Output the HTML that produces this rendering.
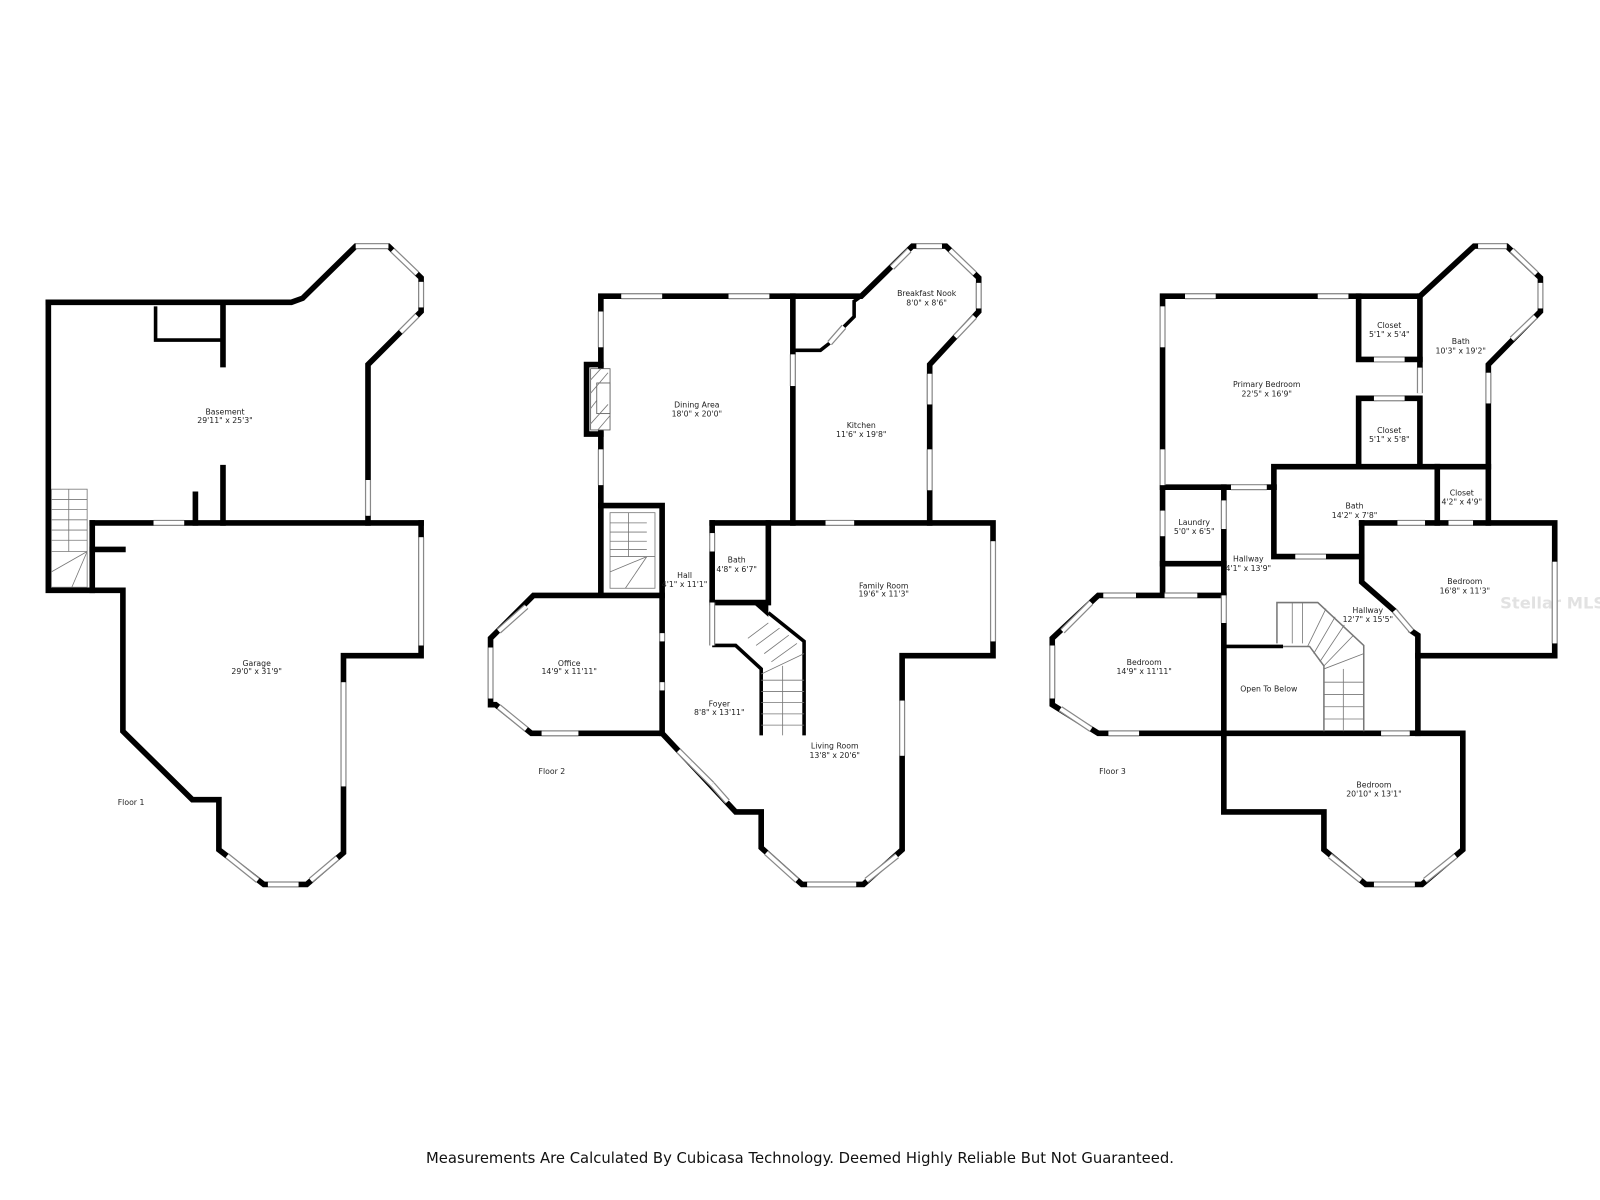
<!DOCTYPE html>
<html><head><meta charset="utf-8"><style>
html,body{margin:0;padding:0;background:#fff;}
svg{display:block}
text{font-family:"DejaVu Sans","Liberation Sans",sans-serif;font-size:7.6px;fill:#222;text-anchor:middle}
.wl{fill:none;stroke:#000;stroke-width:5.5;stroke-linejoin:miter;stroke-linecap:square}
.th{fill:none;stroke:#000;stroke-width:3.5}
.st{fill:none;stroke:#777;stroke-width:0.8}
</style></head><body>
<svg width="1600" height="1200" viewBox="0 0 1566 1175" xmlns="http://www.w3.org/2000/svg">
<rect width="1566" height="1175" fill="#fff"/>

<!-- FLOOR 1 -->
<polyline class="wl" points="47,296 285,296 296,292 348,241 380,241 412,272 412,305 360,357 360,512"/>
<polyline class="wl" points="412,512 412,642 336,642 336,835 300,866 258,866 214,832 214,783 188,783 120,716 120,578 47,578 47,296"/>
<line class="wl" x1="90" y1="512" x2="412" y2="512"/>
<line class="wl" x1="90" y1="512" x2="90" y2="578"/>
<line class="wl" x1="90" y1="538" x2="120" y2="538"/>
<line class="wl" x1="218" y1="296" x2="218" y2="357"/>
<polyline class="th" points="152,300 152,333 218,333"/>
<line class="wl" x1="218" y1="458" x2="218" y2="512"/>
<line class="wl" x1="191" y1="484" x2="191" y2="512"/>
<g class="st">
<rect x="50" y="479" width="35" height="96"/>
<line x1="67" y1="479" x2="67" y2="540"/>
<line x1="50" y1="489" x2="85" y2="489"/><line x1="50" y1="499" x2="85" y2="499"/><line x1="50" y1="509" x2="85" y2="509"/><line x1="50" y1="519" x2="85" y2="519"/><line x1="50" y1="529" x2="85" y2="529"/><line x1="50" y1="540" x2="85" y2="540"/>
<line x1="50" y1="560" x2="85" y2="540"/><line x1="70" y1="575" x2="85" y2="540"/>
</g>
<text x="220" y="406">Basement</text><text x="220" y="414">29'11" x 25'3"</text>
<text x="251" y="652">Garage</text><text x="251" y="660">29'0" x 31'9"</text>
<text x="128" y="788">Floor 1</text>

<!-- FLOOR 2 -->
<polyline class="wl" points="588,583 588,290 843,290 893,241 926,241 958,272 958,305 910,357 910,512 972,512 972,642 883,642 883,832 845,866 785,866 745,830 745,795 720,795 648,718 520,718 485,690 480,690 480,625 485,620 522,583 648,583"/>
<polyline class="wl" points="588,357 574,357 574,425 588,425"/>
<rect x="578" y="361" width="19" height="60" fill="#fff" stroke="#555" stroke-width="0.8"/>
<rect x="584" y="375" width="13" height="30" fill="#fff" stroke="#555" stroke-width="0.8"/>
<g class="st"><line x1="578" y1="372" x2="588" y2="361"/><line x1="578" y1="385" x2="595" y2="365"/><line x1="578" y1="400" x2="584" y2="392"/><line x1="578" y1="415" x2="595" y2="396"/><line x1="585" y1="421" x2="597" y2="407"/></g>
<polyline class="wl" points="588,495 648,495 648,718"/>
<line class="wl" x1="776" y1="290" x2="776" y2="512"/>
<polyline class="th" points="776,343 803,343 812,336"/>
<polyline class="th" points="826,320 836,310 836,295 843,290"/>
<line class="wl" x1="697" y1="512" x2="910" y2="512"/>
<polyline class="wl" points="697,590 752,590 752,512"/>
<line class="wl" x1="697" y1="512" x2="697" y2="522"/>
<line class="wl" x1="697" y1="540" x2="697" y2="590"/>
<polygon points="752,590 736,590 752,604" fill="#000"/>
<polyline class="th" points="752,600 787,628 787,720"/>
<polyline class="th" points="697,632 720,632 745,655 745,720"/>
<g class="st">
<rect x="597" y="502" width="44" height="74"/>
<line x1="615" y1="502" x2="615" y2="545"/><line x1="597" y1="512" x2="633" y2="512"/><line x1="597" y1="521" x2="633" y2="521"/><line x1="597" y1="530" x2="633" y2="530"/><line x1="597" y1="538" x2="633" y2="538"/><line x1="597" y1="545" x2="641" y2="545"/>
<line x1="597" y1="560" x2="633" y2="545"/><line x1="612" y1="576" x2="633" y2="545"/>
<line x1="745" y1="660" x2="787" y2="640"/><line x1="732" y1="625" x2="752" y2="610"/><line x1="740" y1="632" x2="763" y2="615"/><line x1="748" y1="640" x2="772" y2="622"/><line x1="755" y1="648" x2="780" y2="630"/>
<line x1="766" y1="652" x2="766" y2="720"/>
<line x1="745" y1="666" x2="787" y2="666"/><line x1="745" y1="677" x2="787" y2="677"/><line x1="745" y1="688" x2="787" y2="688"/><line x1="745" y1="699" x2="787" y2="699"/><line x1="745" y1="710" x2="787" y2="710"/>
</g>
<text x="907" y="290">Breakfast Nook</text><text x="907" y="299">8'0" x 8'6"</text>
<text x="682" y="399">Dining Area</text><text x="682" y="408">18'0" x 20'0"</text>
<text x="843" y="419">Kitchen</text><text x="843" y="428">11'6" x 19'8"</text>
<text x="721" y="551">Bath</text><text x="721" y="560">4'8" x 6'7"</text>
<text x="670" y="566">Hall</text><text x="670" y="575">4'1" x 11'1"</text>
<text x="865" y="576">Family Room</text><text x="865" y="584">19'6" x 11'3"</text>
<text x="557" y="652">Office</text><text x="557" y="660">14'9" x 11'11"</text>
<text x="704" y="692">Foyer</text><text x="704" y="700">8'8" x 13'11"</text>
<text x="817" y="733">Living Room</text><text x="817" y="742">13'8" x 20'6"</text>
<text x="540" y="758">Floor 2</text>

<!-- FLOOR 3 -->
<polyline class="wl" points="1138,583 1138,290 1390,290 1443,241 1475,241 1508,272 1508,305 1457,357 1457,512 1522,512 1522,642 1388,642 1388,718 1432,718 1432,832 1392,866 1337,866 1296,832 1296,795 1198,795 1198,718 1075,718 1030,690 1030,625 1075,583 1198,583"/>
<polyline class="wl" points="1330,290 1330,352 1345,352"/><polyline class="wl" points="1375,352 1390,352 1390,290"/>
<line class="wl" x1="1390" y1="352" x2="1390" y2="360"/>
<polyline class="wl" points="1330,457 1330,390 1345,390"/><polyline class="wl" points="1375,390 1390,390 1390,457"/>
<polyline class="wl" points="1247,477 1247,457 1457,457"/>
<polyline class="wl" points="1247,477 1247,545 1268,545"/><polyline class="wl" points="1298,545 1333,545"/>
<line class="wl" x1="1407" y1="457" x2="1407" y2="512"/>
<polyline class="wl" points="1333,512 1368,512"/><line class="wl" x1="1395" y1="512" x2="1418" y2="512"/><line class="wl" x1="1442" y1="512" x2="1457" y2="512"/>
<polyline class="wl" points="1333,512 1333,570 1365,598"/>
<polyline class="wl" points="1382,618 1388,622 1388,642"/>
<polyline class="wl" points="1138,477 1205,477"/><line class="wl" x1="1240" y1="477" x2="1247" y2="477"/>
<line class="wl" x1="1198" y1="477" x2="1198" y2="490"/><line class="wl" x1="1198" y1="518" x2="1198" y2="583"/>
<line class="wl" x1="1138" y1="552" x2="1198" y2="552"/>
<line class="wl" x1="1198" y1="610" x2="1198" y2="718"/>
<line class="wl" x1="1198" y1="718" x2="1352" y2="718"/><line class="wl" x1="1380" y1="718" x2="1388" y2="718"/>
<polyline class="th" points="1200,633 1256,633"/>
<polyline fill="none" stroke="#777" stroke-width="1.5" points="1250,630 1250,590 1290,590 1335,632 1335,716"/>
<polyline fill="none" stroke="#777" stroke-width="1.5" points="1256,633 1282,633 1296,652 1296,716"/>
<g class="st">
<line x1="1265" y1="590" x2="1265" y2="630"/><line x1="1275" y1="590" x2="1275" y2="630"/>
<line x1="1280" y1="633" x2="1298" y2="596"/><line x1="1286" y1="640" x2="1307" y2="604"/><line x1="1292" y1="648" x2="1316" y2="612"/><line x1="1296" y1="652" x2="1325" y2="622"/><line x1="1296" y1="655" x2="1335" y2="640"/>
<line x1="1315" y1="655" x2="1315" y2="716"/>
<line x1="1296" y1="668" x2="1335" y2="668"/><line x1="1296" y1="680" x2="1335" y2="680"/><line x1="1296" y1="692" x2="1335" y2="692"/><line x1="1296" y1="704" x2="1335" y2="704"/>
</g>
<text x="1360" y="321">Closet</text><text x="1360" y="330">5'1" x 5'4"</text>
<text x="1430" y="337">Bath</text><text x="1430" y="346">10'3" x 19'2"</text>
<text x="1240" y="379">Primary Bedroom</text><text x="1240" y="388">22'5" x 16'9"</text>
<text x="1360" y="424">Closet</text><text x="1360" y="433">5'1" x 5'8"</text>
<text x="1326" y="498">Bath</text><text x="1326" y="507">14'2" x 7'8"</text>
<text x="1431" y="485">Closet</text><text x="1431" y="494">4'2" x 4'9"</text>
<text x="1169" y="514">Laundry</text><text x="1169" y="523">5'0" x 6'5"</text>
<text x="1222" y="550">Hallway</text><text x="1222" y="559">4'1" x 13'9"</text>
<text x="1434" y="572">Bedroom</text><text x="1434" y="581">16'8" x 11'3"</text>
<text x="1339" y="600">Hallway</text><text x="1339" y="609">12'7" x 15'5"</text>
<text x="1120" y="651">Bedroom</text><text x="1120" y="660">14'9" x 11'11"</text>
<text x="1242" y="677">Open To Below</text>
<text x="1345" y="771">Bedroom</text><text x="1345" y="780">20'10" x 13'1"</text>
<text x="1089" y="758">Floor 3</text>
<text x="1520" y="596" style="font-size:16px;fill:#e2e2e2;font-weight:bold">Stellar MLS</text>

<!-- windows / openings -->
<g stroke="#888" stroke-width="6" fill="none"><g id="win">
<line x1="348" y1="241" x2="380" y2="241"/><line x1="384" y1="245" x2="408" y2="268"/><line x1="412" y1="276" x2="412" y2="301"/><line x1="408" y1="309" x2="392" y2="325"/>
<line x1="360" y1="470" x2="360" y2="505"/><line x1="150" y1="512" x2="180" y2="512"/>
<line x1="412" y1="526" x2="412" y2="632"/><line x1="336" y1="668" x2="336" y2="770"/>
<line x1="330" y1="840" x2="304" y2="862"/><line x1="262" y1="866" x2="292" y2="866"/><line x1="222" y1="838" x2="252" y2="862"/>
<line x1="608" y1="290" x2="648" y2="290"/><line x1="713" y1="290" x2="753" y2="290"/><line x1="588" y1="305" x2="588" y2="340"/><line x1="588" y1="440" x2="588" y2="475"/>
<line x1="776" y1="347" x2="776" y2="378"/><line x1="812" y1="336" x2="826" y2="320"/>
<line x1="873" y1="262" x2="890" y2="245"/><line x1="897" y1="241" x2="922" y2="241"/><line x1="930" y1="245" x2="954" y2="268"/><line x1="958" y1="277" x2="958" y2="302"/><line x1="954" y1="310" x2="935" y2="330"/>
<line x1="910" y1="366" x2="910" y2="396"/><line x1="910" y1="440" x2="910" y2="480"/><line x1="808" y1="512" x2="836" y2="512"/>
<line x1="972" y1="530" x2="972" y2="628"/><line x1="883" y1="686" x2="883" y2="740"/>
<line x1="878" y1="838" x2="848" y2="862"/><line x1="790" y1="866" x2="838" y2="866"/><line x1="750" y1="835" x2="780" y2="862"/>
<line x1="664" y1="735" x2="676" y2="747"/><line x1="697" y1="768" x2="712" y2="785"/><line x1="676" y1="747" x2="697" y2="768"/>
<line x1="697" y1="522" x2="697" y2="540"/><line x1="697" y1="590" x2="697" y2="632"/>
<line x1="648" y1="620" x2="648" y2="628"/><line x1="648" y1="668" x2="648" y2="676"/>
<line x1="530" y1="718" x2="566" y2="718"/><line x1="488" y1="692" x2="515" y2="714"/><line x1="480" y1="634" x2="480" y2="684"/><line x1="488" y1="618" x2="515" y2="594"/>
<line x1="1160" y1="290" x2="1190" y2="290"/><line x1="1290" y1="290" x2="1320" y2="290"/><line x1="1138" y1="300" x2="1138" y2="340"/><line x1="1138" y1="440" x2="1138" y2="475"/><line x1="1138" y1="500" x2="1138" y2="525"/>
<line x1="1447" y1="241" x2="1475" y2="241"/><line x1="1480" y1="245" x2="1504" y2="268"/><line x1="1508" y1="277" x2="1508" y2="302"/><line x1="1503" y1="310" x2="1480" y2="332"/><line x1="1457" y1="365" x2="1457" y2="395"/>
<line x1="1522" y1="550" x2="1522" y2="630"/><line x1="1345" y1="352" x2="1375" y2="352"/><line x1="1345" y1="390" x2="1375" y2="390"/><line x1="1390" y1="360" x2="1390" y2="385"/>
<line x1="1268" y1="545" x2="1298" y2="545"/><line x1="1368" y1="512" x2="1395" y2="512"/><line x1="1418" y1="512" x2="1442" y2="512"/><line x1="1365" y1="598" x2="1382" y2="618"/>
<line x1="1205" y1="477" x2="1240" y2="477"/><line x1="1198" y1="490" x2="1198" y2="518"/><line x1="1198" y1="583" x2="1198" y2="610"/><line x1="1352" y1="718" x2="1380" y2="718"/>
<line x1="1080" y1="583" x2="1112" y2="583"/><line x1="1040" y1="618" x2="1068" y2="590"/><line x1="1030" y1="632" x2="1030" y2="684"/><line x1="1038" y1="694" x2="1068" y2="714"/><line x1="1085" y1="718" x2="1115" y2="718"/>
<line x1="1425" y1="838" x2="1395" y2="862"/><line x1="1345" y1="866" x2="1385" y2="866"/><line x1="1302" y1="838" x2="1332" y2="862"/>
<line x1="1140" y1="583" x2="1172" y2="583"/>
</g></g>
<use href="#win" stroke="#fff" stroke-width="3.6" fill="none"/>

<text x="783" y="1139" style="font-size:14.5px;fill:#111">Measurements Are Calculated By Cubicasa Technology. Deemed Highly Reliable But Not Guaranteed.</text>
</svg>
</body></html>
